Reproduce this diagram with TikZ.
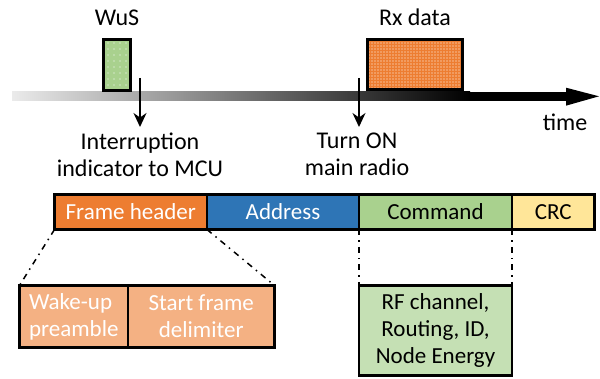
\documentclass[tikz,border=0pt]{standalone}
\usepackage{fontspec}
\setmainfont{Carlito}
\usetikzlibrary{positioning,arrows.meta,patterns.meta}

\definecolor{hdrorange}{HTML}{ED7D31}
\definecolor{addrblue}{HTML}{2E75B6}
\definecolor{cmdgreen}{HTML}{A9D18E}
\definecolor{crcyellow}{HTML}{FFE699}
\definecolor{hdrlight}{HTML}{F4B183}
\definecolor{cmdlight}{HTML}{C5E0B4}

\tikzset{
  field/.style={draw=black, line width=2.5pt, minimum height=35pt, inner sep=0pt, outer sep=0pt,
    font=\fontsize{23}{27}\selectfont},
  subfield/.style={field, minimum height=62pt},
  note/.style={inner sep=0pt, outer sep=0pt, align=center, font=\fontsize{24}{27}\selectfont},
  signal/.style={draw=black, line width=3pt, inner sep=0pt, outer sep=0pt, pattern color=white},
  zoomline/.style={line width=1.5pt, dash pattern=on 6pt off 5pt on 1.5pt off 5pt},
  trigger/.style={line width=2pt, -{Stealth[length=14pt,width=13pt]}},
}

\begin{document}
\begin{tikzpicture}[x=1pt,y=-1pt]
    \useasboundingbox (0,0) rectangle (600,379);
    % time axis
    \shade[left color=black!8, right color=black] (12,91.7) rectangle (470,101);
    \fill[black] (469,91.7) rectangle (567,101);
    \fill[black] (566,87.7) -- (599,96.3) -- (566,105.7) -- cycle;
    \node[note, anchor=base] (timenote) at (565,131) {time};
    % wake-up signal
    \node[signal, preaction={fill=cmdgreen}, pattern={Dots[distance=6pt,radius=0.6pt]},
      minimum width=27.6pt, minimum height=51pt] (wus) at (117,64.7) {};
    \node[note, above=14pt of wus] (wuslabel) {WuS};
    % received data
    \node[signal, preaction={fill=hdrorange}, pattern={Dots[distance=3pt,radius=0.7pt]},
      minimum width=95.6pt, minimum height=50.3pt] (rx) at (415,64.4) {};
    \node[note, above=14pt of rx] (rxlabel) {Rx data};
    % interrupt to the MCU
    \coordinate (wakeint) at (140,78);
    \node[note, outer sep=6pt, anchor=north] (intnote) at (140,127) {Interruption\\indicator to MCU};
    \draw[trigger] (wakeint) -- (intnote.north);
    % main radio switched on
    \coordinate (radioon) at (359,78);
    \node[note, outer sep=6pt, anchor=north] (radionote) at (357,127) {Turn ON\\main radio};
    \draw[trigger] (radioon) -- (radioon |- radionote.north);
    % frame fields
    \node[field, fill=hdrorange, text=white, minimum width=152.5pt, anchor=north west] (hdr) at (54.5,194.5) {Frame header};
    \node[field, fill=addrblue, text=white, minimum width=152pt, right=0pt of hdr] (addr) {Address};
    \node[field, fill=cmdgreen, minimum width=153pt, right=0pt of addr] (cmd) {Command};
    \node[field, fill=crcyellow, minimum width=82.5pt, right=0pt of cmd] (crc) {CRC};
    % header detail
    \node[subfield, fill=hdrlight, text=white, align=left, minimum width=108.5pt, anchor=north west] (wake) at (19.5,285.5) {Wake-up\\preamble};
    \node[subfield, fill=hdrlight, text=white, align=center, minimum width=146.5pt, right=0pt of wake] (sfd) {Start frame\\delimiter};
    \draw[zoomline] (hdr.south west) -- (wake.north west);
    \draw[zoomline] (hdr.south east) -- (sfd.north east);
    % command detail
    \node[field, fill=cmdlight, align=center, minimum width=153pt, minimum height=90pt, anchor=north west] (cmddet) at (359,285.5) {RF channel,\\Routing, ID,\\Node Energy};
    \draw[zoomline] (cmd.south west) -- (cmddet.north west);
    \draw[zoomline] (cmd.south east) -- (cmddet.north east);
\end{tikzpicture}
\end{document}
